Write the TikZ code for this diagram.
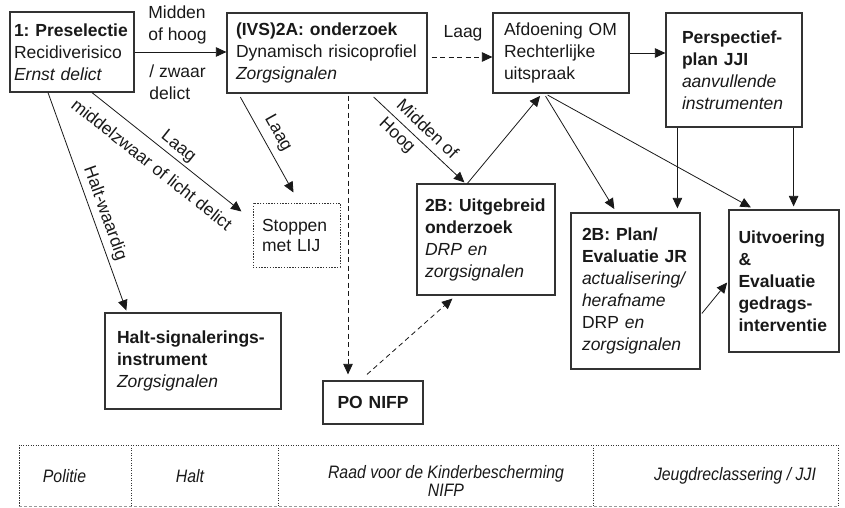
\documentclass[tikz,border=0pt]{standalone}
\usepackage{fontspec}
\setmainfont{Liberation Sans}
\newfontfamily\tabfont[FakeStretch=0.88]{Liberation Sans}
\usetikzlibrary{arrows.meta}
\frenchspacing
\begin{document}
\begin{tikzpicture}[x=1pt,y=-1pt,
  every node/.style={font=\frenchspacing\fontsize{17.5}{22}\selectfont, text=black!90},
  box/.style={draw=black!80, line width=1.2pt, rectangle, inner xsep=0pt, inner ysep=0pt, align=left},
  dotbox/.style={box, dash pattern=on 1.4pt off 1.4pt, line width=1pt},
  arr/.style={-{Triangle[length=10.5pt,width=9.5pt]}, line width=0.8pt, draw=black!90},
  dline/.style={dash pattern=on 5pt off 3.5pt},
  lab/.style={inner sep=0pt, align=left},
  cell/.style={inner sep=0pt, align=center, font=\tabfont\itshape\fontsize{18}{18.5}\selectfont},
  tabdot/.style={line width=1pt, draw=black!80, dash pattern=on 1.2pt off 1.3pt},
  tabdash/.style={line width=0.7pt, draw=black!40, dash pattern=on 3pt off 2pt}
]
\useasboundingbox (0,0) rectangle (845,508);

% boxes
\node[box, minimum width=124pt, minimum height=80pt, text width=116pt] (pre) at (72,52)
  {\textbf{1: Preselectie}\\Recidiverisico\\\textit{Ernst delict}};
\node[box, minimum width=200pt, minimum height=80pt, text width=182pt] (ivs) at (327,53)
  {\textbf{(IVS)2A: onderzoek}\\Dynamisch risicoprofiel\\\textit{Zorgsignalen}};
\node[box, minimum width=136pt, minimum height=80pt, text width=114pt] (afd) at (561,53)
  {Afdoening OM\\Rechterlijke\\uitspraak};
\node[box, minimum width=136pt, minimum height=114pt, text width=104pt] (persp) at (734,70)
  {\textbf{Perspectief-}\\\textbf{plan JJI}\\\textit{aanvullende}\\\textit{instrumenten}};
\node[dotbox, minimum width=87pt, minimum height=64pt, text width=69pt, font=\fontsize{17.5}{20}\selectfont] (stop) at (296.5,235)
  {Stoppen\\met LIJ};
\node[box, minimum width=138pt, minimum height=111pt, text width=122pt] (uitg) at (486,239.5)
  {\textbf{2B: Uitgebreid}\\\textbf{onderzoek}\\\textit{DRP en}\\\textit{zorgsignalen}};
\node[box, minimum width=176pt, minimum height=96pt, text width=152pt] (halt) at (193,361)
  {\textbf{Halt-signalerings-}\\\textbf{instrument}\\\textit{Zorgsignalen}};
\node[box, minimum width=100pt, minimum height=43pt, text width=90pt, align=center] (po) at (373,402.5)
  {\textbf{PO NIFP}};
\node[box, minimum width=129pt, minimum height=156pt, text width=107pt] (plan) at (635.5,291)
  {\textbf{2B: Plan/}\\\textbf{Evaluatie JR}\\\textit{actualisering/}\\\textit{herafname}\\DRP \textit{en}\\\textit{zorgsignalen}};
\node[box, minimum width=110pt, minimum height=142pt, text width=91pt] (uitv) at (784,281)
  {\textbf{Uitvoering}\\\textbf{\&}\\\textbf{Evaluatie}\\\textbf{gedrags-}\\\textbf{interventie}};

% connectors
\draw[arr] (pre.east) -- (pre.east -| ivs.west)
  node[lab, midway, above=7pt, xshift=-3pt] {Midden\\of hoog}
  node[lab, midway, below=12.5pt, xshift=-3pt] {/ zwaar\\delict};
\draw[arr, dline, shorten <=4pt] ([yshift=-4pt]ivs.east) -- ([yshift=-4pt]afd.west)
  node[lab, midway, above=15pt, xshift=3pt] {Laag};
\draw[arr] (afd.east) -- (afd.east -| persp.west);
\draw[arr, shorten >=2pt] ([xshift=-24pt]pre.south) -- ([xshift=-66pt]halt.north)
  node[lab, pos=0.57, sloped, above=4pt] {Halt-waardig};
\draw[arr] ([xshift=20pt]pre.south) -- ([xshift=-11pt,yshift=-9pt]stop.north west)
  node[lab, pos=0.53, sloped, above=3pt] {Laag}
  node[lab, pos=0.48, sloped, below=12pt] {middelzwaar of licht delict};
\draw[arr, shorten <=4pt] ([xshift=12pt]ivs.south west) -- ([xshift=-3pt,yshift=10pt]stop.north)
  node[lab, pos=0.475, sloped, above=7pt] {Laag};
\draw[arr, dline, shorten <=2pt] ([xshift=21pt]ivs.south) -- ([xshift=-25pt,yshift=6pt]po.north);
\draw[arr, dline] ([xshift=-6pt,yshift=6pt]po.north) -- ([xshift=36pt,yshift=-3pt]uitg.south west);
\draw[arr, shorten <=5pt] ([xshift=43pt]ivs.south) -- ([xshift=48pt,yshift=1pt]uitg.north west)
  node[lab, pos=0.51, sloped, font=\fontsize{17.5}{25}\selectfont] {Midden of\\Hoog};
\draw[arr, shorten >=3pt] ([xshift=51pt]uitg.north west) -- ([xshift=-19pt]afd.south);
\draw[arr, shorten <=3pt, shorten >=4pt] ([xshift=-17pt]afd.south) -- ([xshift=46pt]plan.north west);
\draw[arr, shorten <=3pt, shorten >=4pt] ([xshift=-16pt]afd.south) -- ([xshift=26pt]uitv.north west);
\draw[arr, shorten >=4pt] ([xshift=12pt]persp.south west) -- ([xshift=107pt]plan.north west);
\draw[arr, shorten >=3pt] ([xshift=-9pt]persp.south east) -- ([xshift=-46pt]uitv.north east);
\draw[arr, shorten <=2pt, shorten >=2pt] ([yshift=-24pt]plan.east) -- (uitv.west);

% bottom table
\draw[tabdash] (19,506) -- (838,506);
\draw[tabdot] (19,506) -- (19,445) -- (838,445) -- (838,506);
\draw[tabdot] (131,445) -- (131,506);
\draw[tabdot] (278,445) -- (278,506);
\draw[tabdot] (593,445) -- (593,506);
\node[cell] (politie) at (64.5,476) {Politie};
\node[cell] (haltc) at (190,476) {Halt};
\node[cell] (raad) at (446,481) {Raad voor de Kinderbescherming\\NIFP};
\node[cell] (jeugd) at (735,476) {Jeugdreclassering / JJI};
\end{tikzpicture}
\end{document}
